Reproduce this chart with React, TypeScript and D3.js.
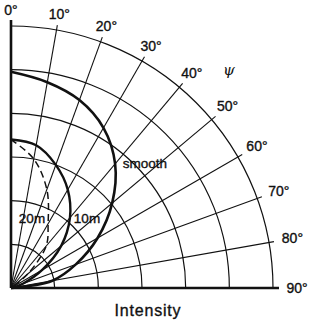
import React from 'react';
import * as d3 from 'd3';

const angleTicks = [0, 10, 20, 30, 40, 50, 60, 70, 80, 90];
const ringValues = [0.2, 0.4, 0.6, 0.8, 1.0, 1.2];
const curveAngles = [0, 10, 20, 30, 40, 50, 60, 70, 80, 90];
const smoothValues = [0.99, 0.957, 0.916, 0.847, 0.742, 0.605, 0.458, 0.316, 0.192, 0];
const tenMValues = [0.68, 0.664, 0.6, 0.52, 0.42, 0.3, 0.165, 0.06, 0.01, 0];
const twentyMValues = [0.68, 0.6, 0.48, 0.34, 0.25, 0.1, 0];

const W = 309;
const H = 320;
const cx = 11;
const cy = 288;
const R = 262;

export default function App() {
  const r = d3.scaleLinear().domain([0, 1.2]).range([0, R]);
  const a = d3.scaleLinear().domain([0, 90]).range([0, Math.PI / 2]);
  const pt = (deg: number, rad: number) => [rad * Math.sin(a(deg)), -rad * Math.cos(a(deg))];

  const line = d3
    .lineRadial<[number, number]>()
    .angle((d) => a(d[0]))
    .radius((d) => r(d[1]))
    .curve(d3.curveCatmullRom.alpha(0.5));

  const series = (vals: number[]) => vals.map((v, i) => [curveAngles[i], v] as [number, number]);

  const arc = d3.arc();
  const font = 'Liberation Sans, Arial, sans-serif';
  const textStyle = { stroke: '#111', strokeWidth: 0.35 };

  return (
    <svg width={W} height={H} style={{ position: 'absolute', left: 0, top: 0, background: '#fff' }}>
      <g transform={`translate(${cx},${cy})`}>
        {ringValues.map((v) => (
          <path
            key={v}
            d={arc({ innerRadius: r(v), outerRadius: r(v), startAngle: 0, endAngle: Math.PI / 2 }) as string}
            fill="none"
            stroke="#111"
            strokeWidth={1.2}
          />
        ))}
        {angleTicks.filter((d) => d > 0 && d < 90).map((d) => {
          const [x, y] = pt(d, R + 5);
          return <line key={d} x1={0} y1={0} x2={x} y2={y} stroke="#111" strokeWidth={1.1} />;
        })}
        <line x1={0} y1={0} x2={0} y2={-(R + 6)} stroke="#111" strokeWidth={2.6} />
        <line x1={0} y1={0} x2={R + 6} y2={0} stroke="#111" strokeWidth={2.6} />
        {angleTicks.map((d) => {
          const s = Math.sin(a(d));
          const [x, y] = pt(d, 278 + 8 * s * s);
          return (
            <text
              key={d}
              x={x}
              y={y}
              textAnchor="middle"
              dominantBaseline="central"
              fontFamily={font}
              fontSize={14}
              fill="#111"
              style={textStyle}
            >
              {d}°
            </text>
          );
        })}
        {(() => {
          const [x, y] = pt(45, 308);
          return (
            <text x={x} y={y} textAnchor="middle" dominantBaseline="central" fontFamily="DejaVu Serif, serif" fontStyle="italic" fontSize={15} fill="#111">
              ψ
            </text>
          );
        })()}
        <path d={line(series(smoothValues)) as string} fill="none" stroke="#111" strokeWidth={2.6} />
        <path d={line(series(tenMValues)) as string} fill="none" stroke="#111" strokeWidth={2.4} />
        <path d={line(series(twentyMValues)) as string} fill="none" stroke="#111" strokeWidth={1.5} strokeDasharray="7,4" />
      </g>
      <text x={145} y={163} textAnchor="middle" dominantBaseline="central" fontFamily={font} fontSize={13.5} fill="#111" style={textStyle}>smooth</text>
      <text x={32} y={218} textAnchor="middle" dominantBaseline="central" fontFamily={font} fontSize={13.5} fill="#111" style={textStyle}>20m</text>
      <text x={87} y={218} textAnchor="middle" dominantBaseline="central" fontFamily={font} fontSize={13.5} fill="#111" style={textStyle}>10m</text>
      <text x={148} y={310} textAnchor="middle" dominantBaseline="central" fontFamily={font} fontSize={16} letterSpacing={0.8} fill="#111" style={textStyle}>Intensity</text>
    </svg>
  );
}
